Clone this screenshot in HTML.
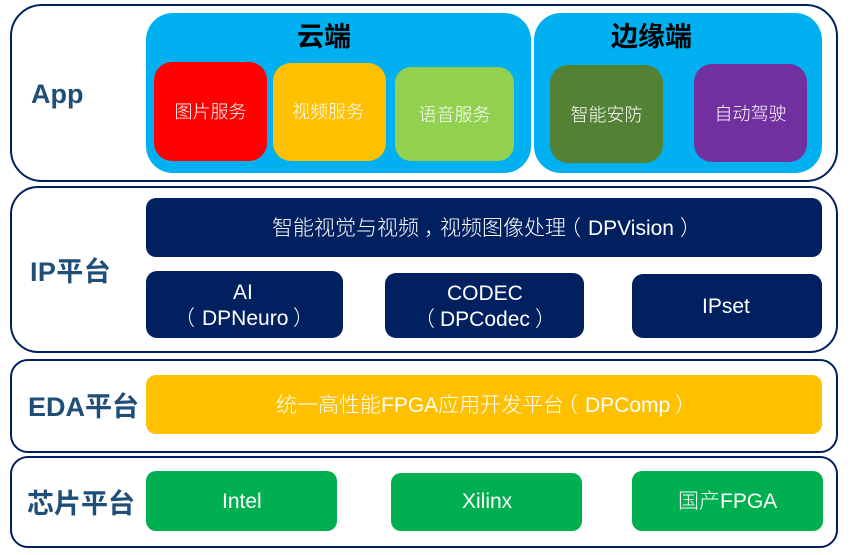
<!DOCTYPE html>
<html><head><meta charset="utf-8">
<style>
html,body{margin:0;padding:0;background:#fff}
body{width:852px;height:555px;position:relative;overflow:hidden;font-family:"Liberation Sans","Noto Sans CJK SC",sans-serif}
.o{position:absolute;box-sizing:border-box;border:2px solid #002060;background:#fff}
.b{position:absolute;display:flex;align-items:center;justify-content:center;text-align:center;color:#fff;font-size:21px;line-height:26px;white-space:nowrap}
.x{position:absolute;color:#fff;font-size:21px;line-height:26px;white-space:nowrap;font-weight:300}
.l{position:absolute;font-weight:bold;color:#1f4e79;font-size:27px;line-height:32px;white-space:nowrap}
.t{position:absolute;font-weight:bold;color:#000;font-size:27px;line-height:32px;white-space:nowrap}
.s{font-size:18px;font-weight:300;padding-top:1px;box-sizing:border-box}
</style></head><body>
<div class="o" style="left:10px;top:4px;width:828px;height:178px;border-radius:32px"></div>
<div class="o" style="left:10px;top:186px;width:828px;height:167px;border-radius:28px"></div>
<div class="o" style="left:10px;top:359px;width:828px;height:94px;border-radius:18px"></div>
<div class="o" style="left:10px;top:456px;width:828px;height:92px;border-radius:18px"></div>

<div class="l" style="left:31px;top:78px">App</div>
<div class="l" style="left:30px;top:256px;letter-spacing:.4px">IP平台</div>
<div class="l" style="left:28px;top:391px">EDA平台</div>
<div class="l" style="left:27px;top:488px">芯片平台</div>

<div class="b" style="left:146px;top:13px;width:385px;height:160px;background:#00b0f0;border-radius:27px"></div>
<div class="b" style="left:534px;top:13px;width:288px;height:160px;background:#00b0f0;border-radius:27px"></div>
<div class="t" style="left:297px;top:21px">云端</div>
<div class="t" style="left:611px;top:21px">边缘端</div>

<div class="b s" style="left:154px;top:62px;width:113px;height:99px;background:#ff0000;border-radius:18px">图片服务</div>
<div class="b" style="left:273px;top:63px;width:113px;height:98px;background:#ffc000;border-radius:18px"></div>
<div class="x" style="left:292px;top:99px;font-size:18px">视频服务</div>
<div class="b s" style="left:395px;top:67px;width:119px;height:94px;background:#92d050;border-radius:16px">语音服务</div>
<div class="b s" style="left:550px;top:65px;width:113px;height:98px;background:#548235;border-radius:18px">智能安防</div>
<div class="b s" style="left:694px;top:64px;width:113px;height:98px;background:#7030a0;border-radius:18px">自动驾驶</div>

<div class="b" style="left:146px;top:198px;width:676px;height:59px;background:#002060;border-radius:10px"></div>
<div class="x" style="left:272px;top:216px">智能视觉与视频<span style="position:relative;left:5px">，</span>视频图像处理</div>
<div class="x" style="left:560px;top:216px">（</div>
<div class="x" style="left:588px;top:216px">DPVision</div>
<div class="x" style="left:680px;top:216px">）</div>

<div class="b" style="left:146px;top:271px;width:197px;height:67px;background:#002060;border-radius:11px"></div>
<div class="x" style="left:233px;top:280px">AI</div>
<div class="x" style="left:174px;top:306px">（</div>
<div class="x" style="left:202px;top:306px">DPNeuro</div>
<div class="x" style="left:293px;top:306px">）</div>

<div class="b" style="left:385px;top:273px;width:199px;height:65px;background:#002060;border-radius:11px"></div>
<div class="x" style="left:447px;top:281px">CODEC</div>
<div class="x" style="left:414px;top:307px">（</div>
<div class="x" style="left:440px;top:307px">DPCodec</div>
<div class="x" style="left:535px;top:307px">）</div>

<div class="b" style="left:632px;top:274px;width:190px;height:64px;background:#002060;border-radius:11px"></div>
<div class="x" style="left:702px;top:294px">IPset</div>

<div class="b" style="left:146px;top:375px;width:676px;height:59px;background:#ffc000;border-radius:10px"></div>
<div class="x" style="left:276px;top:393px">统一高性能FPGA应用开发平台</div>
<div class="x" style="left:557px;top:393px">（</div>
<div class="x" style="left:585px;top:393px">DPComp</div>
<div class="x" style="left:675px;top:393px">）</div>

<div class="b" style="left:146px;top:471px;width:191px;height:60px;background:#00b050;border-radius:10px"></div>
<div class="x" style="left:222px;top:489px">Intel</div>
<div class="b" style="left:391px;top:473px;width:191px;height:58px;background:#00b050;border-radius:10px"></div>
<div class="x" style="left:462px;top:489px">Xilinx</div>
<div class="b" style="left:632px;top:471px;width:191px;height:60px;background:#00b050;border-radius:10px"></div>
<div class="x" style="left:678px;top:489px">国产FPGA</div>
</body></html>
